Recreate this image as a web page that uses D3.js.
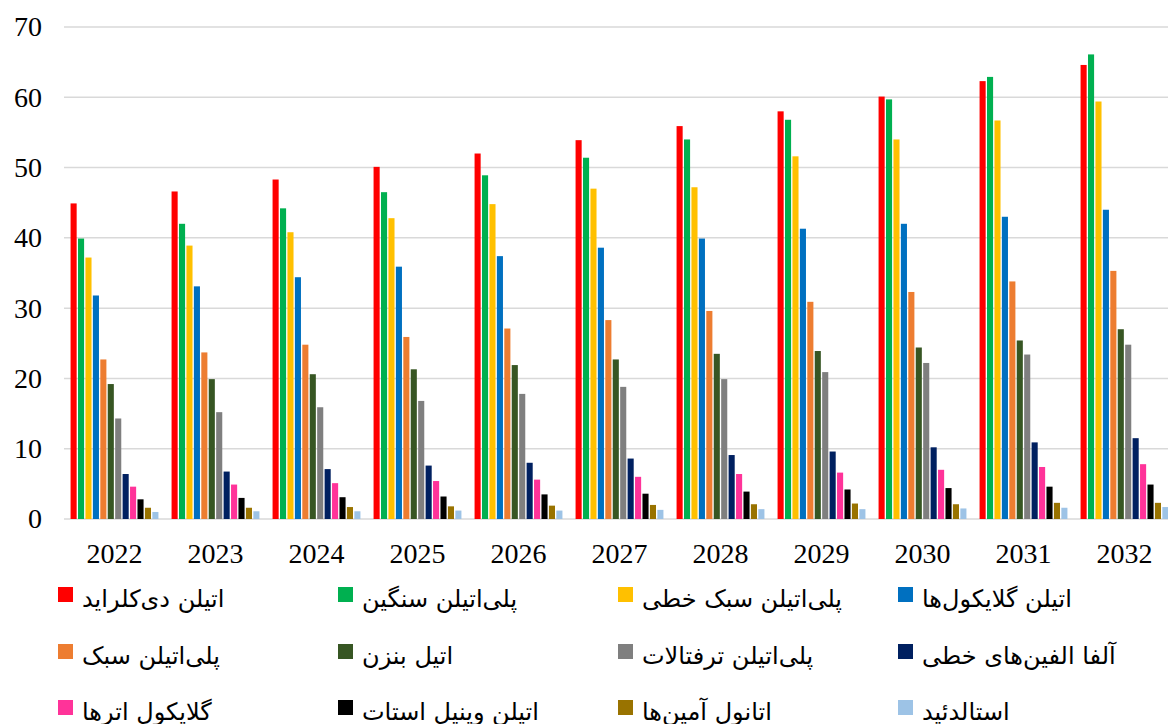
<!DOCTYPE html>
<html><head><meta charset="utf-8">
<script src="https://cdn.jsdelivr.net/npm/d3@7"></script>
<style>body{margin:0;background:#fff}svg{display:block}</style>
</head><body>
<svg id="c" width="1168" height="724"></svg>
<script>
const years = ["2022","2023","2024","2025","2026","2027","2028","2029","2030","2031","2032"];
const seriesNames = ["اتیلن دی‌کلراید","پلی‌اتیلن سنگین","پلی‌اتیلن سبک خطی","اتیلن گلایکول‌ها","پلی‌اتیلن سبک","اتیل بنزن","پلی‌اتیلن ترفتالات","آلفا الفین‌های خطی","گلایکول اترها","اتیلن وینیل استات","اتانول آمین‌ها","استالدئید"];
const seriesColors = ["#ff0000","#00b050","#ffc000","#0070c0","#ed7d31","#375623","#7f7f7f","#002060","#ff3399","#000000","#997300","#9dc3e6"];
const s1 = [44.9,46.6,48.3,50.1,52.0,53.9,55.9,58.0,60.1,62.3,64.6];
const s2 = [39.9,42.0,44.2,46.5,48.9,51.4,54.0,56.8,59.7,62.9,66.1];
const s3 = [37.2,38.9,40.8,42.8,44.8,47.0,47.2,51.6,54.0,56.7,59.4];
const s4 = [31.8,33.1,34.4,35.9,37.4,38.6,39.9,41.3,42.0,43.0,44.0];
const s5 = [22.7,23.7,24.8,25.9,27.1,28.3,29.6,30.9,32.3,33.8,35.3];
const s6 = [19.2,19.9,20.6,21.3,21.9,22.7,23.5,23.9,24.4,25.4,27.0];
const s7 = [14.3,15.2,15.9,16.8,17.8,18.8,19.9,20.9,22.2,23.4,24.8];
const s8 = [6.4,6.75,7.1,7.6,8.0,8.6,9.1,9.6,10.2,10.9,11.5];
const s9 = [4.6,4.9,5.1,5.4,5.6,6.0,6.4,6.6,7.0,7.4,7.8];
const s10 = [2.8,3.0,3.1,3.2,3.5,3.6,3.9,4.2,4.4,4.6,4.9];
const s11 = [1.6,1.6,1.7,1.8,1.9,2.0,2.1,2.2,2.1,2.3,2.3];
const s12 = [1.0,1.1,1.1,1.2,1.2,1.3,1.4,1.4,1.5,1.6,1.7];
const yTicks = [0,10,20,30,40,50,60,70];

const seriesValues = [s1,s2,s3,s4,s5,s6,s7,s8,s9,s10,s11,s12];
const svg = d3.select("#c");
const serif = "'Liberation Serif','Times New Roman',serif";
const persian = "'DejaVu Sans',sans-serif";

const x0 = d3.scaleBand().domain(years).range([64, 1175]).paddingInner(0.13).paddingOuter(0.065);
const x1 = d3.scaleBand().domain(d3.range(seriesNames.length)).range([0, x0.bandwidth()]).paddingInner(0.18);
const y = d3.scaleLinear().domain([0,70]).range([519, 27]);

// gridlines
svg.append("g").selectAll("line").data(yTicks).join("line")
  .attr("x1", 64).attr("x2", 1168)
  .attr("y1", d => y(d)).attr("y2", d => y(d))
  .attr("stroke", "#d9d9d9").attr("stroke-width", 1.5);

// y labels
const yAxis = svg.append("g").attr("transform", "translate(42,0)")
  .call(d3.axisLeft(y).tickValues(yTicks).tickSize(0).tickPadding(0));
yAxis.select(".domain").remove();
yAxis.selectAll("text").attr("font-family", serif).attr("font-size", 28).attr("fill", "#000").attr("dy", "0.32em");

// bars
const groups = svg.append("g").selectAll("g").data(years).join("g")
  .attr("transform", d => `translate(${x0(d)},0)`);
groups.selectAll("rect").data((d, i) => seriesValues.map((s, k) => ({k, v: s[i]}))).join("rect")
  .attr("x", d => x1(d.k)).attr("width", x1.bandwidth())
  .attr("y", d => y(d.v)).attr("height", d => y(0) - y(d.v))
  .attr("fill", d => seriesColors[d.k]);

// x labels
const xAxis = svg.append("g").attr("transform", "translate(0,543)")
  .call(d3.axisBottom(x0).tickSize(0).tickPadding(0));
xAxis.select(".domain").remove();
xAxis.selectAll("text").attr("font-family", serif).attr("font-size", 28).attr("fill", "#000").attr("dy", "0.71em");

// legend
const legendX = [58, 338, 618, 898];
const legendY = [587, 644, 700];
const leg = svg.append("g").selectAll("g").data(seriesNames).join("g")
  .attr("transform", (d, i) => `translate(${legendX[i % 4]},${legendY[Math.floor(i / 4)]})`);
leg.append("rect").attr("width", 15).attr("height", 15).attr("fill", (d, i) => seriesColors[i]);
leg.append("text").attr("x", 24).attr("y", 20).attr("font-family", persian).attr("font-size", 24)
  .attr("fill", "#000").text(d => d);
</script>
</body></html>
